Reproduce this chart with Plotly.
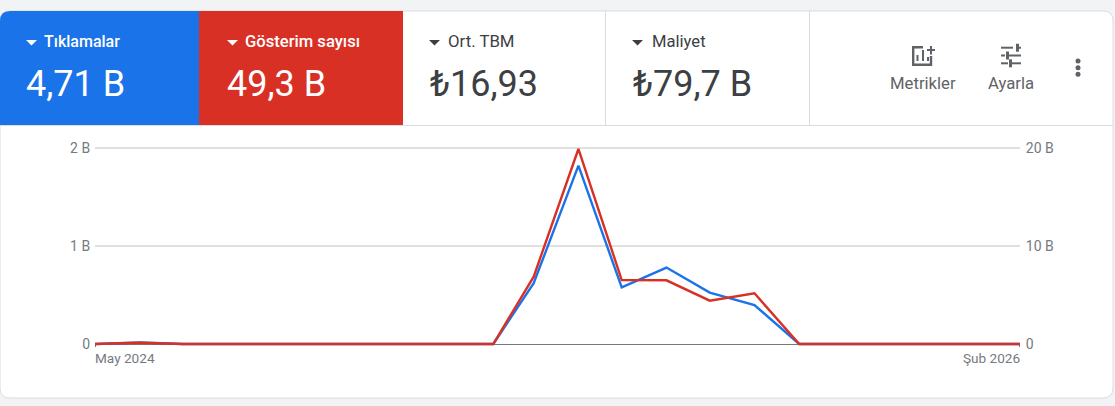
#!/usr/bin/env python3
"""Google Ads style overview card: KPI header plus clicks / impressions line chart."""

import plotly.graph_objects as go

W, H = 1115, 406

months = [
    "2024-05-01", "2024-06-01", "2024-07-01", "2024-08-01", "2024-09-01", "2024-10-01",
    "2024-11-01", "2024-12-01", "2025-01-01", "2025-02-01", "2025-03-01", "2025-04-01",
    "2025-05-01", "2025-06-01", "2025-07-01", "2025-08-01", "2025-09-01", "2025-10-01",
    "2025-11-01", "2025-12-01", "2026-01-01", "2026-02-01",
]
clicks_b = [0, 0.015, 0, 0, 0, 0, 0, 0, 0, 0, 0.62, 1.82, 0.578, 0.78, 0.524, 0.398, 0, 0, 0, 0, 0, 0]
impressions_b = [0, 0.12, 0, 0, 0, 0, 0, 0, 0, 0, 6.87, 19.9, 6.53, 6.5, 4.42, 5.17, 0, 0, 0, 0, 0, 0]

first_month_label = "May 2024"
last_month_label = "Şub 2026"

left_ticks = [0, 1, 2]
left_labels = ["0", "1 B", "2 B"]
right_ticks = [0, 10, 20]
right_labels = ["0", "10 B", "20 B"]

kpi_names = ["Tıklamalar", "Gösterim sayısı", "Ort. TBM", "Maliyet"]
kpi_values = ["4,71 B", "49,3 B", "₺16,93", "₺79,7 B"]
kpi_left = [26, 227, 429, 632]
kpi_name_left = [44, 245, 448, 652]
kpi_value_left = [26, 227, 430, 633]
kpi_name_size = [16, 16.6, 16.8, 16.6]

BLUE = "#1a73e8"
RED = "#d93025"
DARK = "#3c4043"
GREY = "#5f6368"
AXIS_TEXT = "#757a7f"
LINE = "#dadce0"
PAGE = "#f1f3f4"
FONT = "Roboto"

# pixels per billion on the left axis, both ends padded so the lines and the 2 B grid line aren't cut
PX_PER_B = 98
Y_TOP = 2.02
Y_BOTTOM = -0.03
ZERO_PX = 344


def fx(px):
    return px / W


def fy(py):
    return 1 - py / H


def path_shape(d, fill, line=None, width=0, layer="below"):
    return dict(type="path", path=d, xref="paper", yref="paper", fillcolor=fill,
                line=dict(color=line or fill, width=width), layer=layer)


def poly(points, close=True):
    d = "M" + " L".join(f"{fx(x):.5f},{fy(y):.5f}" for x, y in points)
    return d + (" Z" if close else "")


def rect(x0, y0, x1, y1, fill, layer="below"):
    return dict(type="rect", xref="paper", yref="paper", x0=fx(x0), x1=fx(x1),
                y0=fy(y0), y1=fy(y1), fillcolor=fill, line=dict(width=0), layer=layer)


def hline(x0, x1, y, color=LINE, width=1):
    return dict(type="line", xref="paper", yref="paper", x0=fx(x0), x1=fx(x1),
                y0=fy(y), y1=fy(y), line=dict(color=color, width=width), layer="below")


def vline(x, y0, y1, color=LINE, width=1):
    return dict(type="line", xref="paper", yref="paper", x0=fx(x), x1=fx(x),
                y0=fy(y0), y1=fy(y1), line=dict(color=color, width=width), layer="below")


def rounded(x0, y0, x1, y1, r):
    # rounded box, quadratic corners are enough here
    tl, tr, br, bl = r if isinstance(r, tuple) else (r, r, r, r)
    return (
        f"M{fx(x0 + tl):.5f},{fy(y0):.5f} L{fx(x1 - tr):.5f},{fy(y0):.5f} "
        f"Q{fx(x1):.5f},{fy(y0):.5f} {fx(x1):.5f},{fy(y0 + tr):.5f} "
        f"L{fx(x1):.5f},{fy(y1 - br):.5f} "
        f"Q{fx(x1):.5f},{fy(y1):.5f} {fx(x1 - br):.5f},{fy(y1):.5f} "
        f"L{fx(x0 + bl):.5f},{fy(y1):.5f} "
        f"Q{fx(x0):.5f},{fy(y1):.5f} {fx(x0):.5f},{fy(y1 - bl):.5f} "
        f"L{fx(x0):.5f},{fy(y0 + tl):.5f} "
        f"Q{fx(x0):.5f},{fy(y0):.5f} {fx(x0 + tl):.5f},{fy(y0):.5f} Z"
    )


def label(text, x, y, size, color, anchor="left", weight=None):
    return dict(text=text, xref="paper", yref="paper", x=fx(x), y=fy(y), xanchor=anchor,
                yanchor="middle", showarrow=False, borderpad=0, borderwidth=0,
                font=dict(family=FONT, size=size, color=color, weight=weight))


shapes = [
    path_shape(rounded(0, 11, 1113, 398, 10), "#ffffff", LINE, 1),
    path_shape(rounded(0, 11, 199, 125, (10, 0, 0, 0)), BLUE),
    rect(199, 11, 403, 125, RED),
    hline(0, 1113, 125.5),
    vline(605.5, 11, 125),
    vline(809.5, 11, 125),
    # tiny end ticks under the baseline
    vline(95.5, 345, 347, AXIS_TEXT, 1),
    vline(1019.5, 345, 347, AXIS_TEXT, 1),
]

# dropdown carets in the KPI tiles
for i, x in enumerate(kpi_left):
    caret = "#ffffff" if i < 2 else DARK
    shapes.append(path_shape(poly([(x, 40), (x + 11, 40), (x + 5.5, 45.5)]), caret))

# Metrikler icon
shapes.append(path_shape(
    poly([(923, 47.2), (913.2, 47.2), (913.2, 64.8), (931, 64.8), (931, 56)], close=False),
    "rgba(0,0,0,0)", GREY, 2.4))
for x, y0 in [(917.5, 55), (923, 50), (928, 57)]:
    shapes.append(rect(x - 1, y0, x + 1, 61, GREY))
shapes.append(rect(927, 49, 935, 51, GREY))
shapes.append(rect(930, 46, 932, 54.5, GREY))

# Ayarla icon, one row per slider: left run end, right run start, knob x0, knob x1
for y, run_end, run_start, k0, k1 in [(47.7, 1013, 1019, 1016, 1019),
                                       (55.5, 1005, 1009, 1006, 1009),
                                       (63.3, 1008, 1012, 1009, 1012)]:
    shapes.append(rect(1001, y - 1, run_end, y + 1, GREY))
    shapes.append(rect(run_start, y - 1, 1021, y + 1, GREY))
    shapes.append(rect(k0, y - 4, k1, y + 4, GREY))

# more menu dots
for y in [61, 67.7, 74.3]:
    shapes.append(dict(type="circle", xref="paper", yref="paper", x0=fx(1075.5), x1=fx(1080.5),
                       y0=fy(y - 2.5), y1=fy(y + 2.5), fillcolor=GREY, line=dict(width=0)))

annotations = []
for i, (name, value) in enumerate(zip(kpi_names, kpi_values)):
    color = "#ffffff" if i < 2 else DARK
    annotations.append(label(name, kpi_name_left[i], 41.5, kpi_name_size[i], color, weight=500 if i < 2 else None))
    annotations.append(label(value, kpi_value_left[i], 84, 36, color))
annotations.append(label("Metrikler", 923, 84, 16.7, GREY, "center"))
annotations.append(label("Ayarla", 1011, 83, 16.7, GREY, "center"))

# first and last month sit flush with the plot edges
annotations.append(dict(text=first_month_label, x=months[0], xref="x", yref="paper", y=fy(358), xanchor="left",
                        xshift=-1, yanchor="middle", showarrow=False, borderpad=0,
                        font=dict(family=FONT, size=13.6, color=AXIS_TEXT)))
annotations.append(dict(text=last_month_label, x=months[-1], xref="x", yref="paper", y=fy(358), xanchor="right",
                        xshift=1, yanchor="middle", showarrow=False, borderpad=0,
                        font=dict(family=FONT, size=13.6, color=AXIS_TEXT)))

fig = go.Figure()
fig.add_trace(go.Scatter(x=months, y=clicks_b, mode="lines", name="Tıklamalar",
                         line=dict(color=BLUE, width=2.4), yaxis="y", hoverinfo="skip"))
fig.add_trace(go.Scatter(x=months, y=impressions_b, mode="lines", name="Gösterim sayısı",
                         line=dict(color=RED, width=2.4), yaxis="y2", hoverinfo="skip"))

fig.update_layout(
    width=W,
    height=H,
    margin=dict(l=0, r=0, t=0, b=0, autoexpand=False),
    paper_bgcolor=PAGE,
    plot_bgcolor="rgba(0,0,0,0)",
    showlegend=False,
    font=dict(family=FONT),
    shapes=shapes,
    annotations=annotations,
    xaxis=dict(
        domain=[fx(95), fx(1020)],
        type="date",
        range=[months[0], months[-1]],
        showticklabels=False,
        showgrid=False,
        zeroline=False,
        showline=False,
        ticks="",
    ),
    yaxis=dict(
        domain=[fy(ZERO_PX - Y_BOTTOM * PX_PER_B), fy(ZERO_PX - Y_TOP * PX_PER_B)],
        range=[Y_BOTTOM, Y_TOP],
        tickvals=left_ticks,
        ticktext=left_labels,
        tickfont=dict(family=FONT, size=14, color=AXIS_TEXT),
        ticks="outside",
        ticklen=1,
        tickcolor="rgba(0,0,0,0)",
        gridcolor="#e0e0e0",
        gridwidth=1.5,
        zeroline=True,
        zerolinecolor=AXIS_TEXT,
        zerolinewidth=1,
    ),
    yaxis2=dict(
        overlaying="y",
        side="right",
        range=[Y_BOTTOM * 10, Y_TOP * 10],
        tickvals=right_ticks,
        ticktext=right_labels,
        tickfont=dict(family=FONT, size=14, color=AXIS_TEXT),
        ticks="outside",
        ticklen=2,
        tickcolor="rgba(0,0,0,0)",
        showgrid=False,
        zeroline=False,
    ),
)

fig.write_html("out.html", config=dict(displayModeBar=False),
               post_script="document.body.style.margin='0';document.body.style.overflow='hidden';")
